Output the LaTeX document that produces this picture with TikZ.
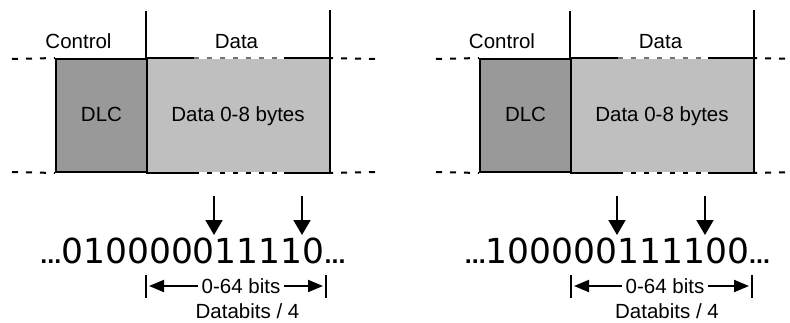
\documentclass[tikz,border=0pt]{standalone}
\usepackage{fontspec}
\setmainfont{Liberation Sans}
\newfontfamily\bitfont{DejaVu Sans}
\usetikzlibrary{arrows.meta}

\newcommand{\bitdots}{{\normalfont\bfseries\fontsize{25}{25}\selectfont...}}
\newcommand{\bitrow}[1]{{\bitfont\fontsize{34.5}{40}\selectfont\bitdots#1\bitdots}}

\begin{document}
\begin{tikzpicture}[x=1pt,y=-1pt,line width=2pt,
                    >={Triangle[length=15pt,width=17pt]},
                    font=\fontsize{20.5}{24}\selectfont]
      \tikzstyle{dlc}=[draw,fill=black!40,minimum width=91pt,minimum height=113pt,
                       inner sep=0pt,text height=15pt,text depth=4pt]
      \tikzstyle{field}=[fill=black!25,minimum width=182pt,minimum height=113pt,
                         inner sep=0pt,text height=15pt,text depth=4pt]
      \tikzstyle{sideline}=[dash pattern=on 6pt off 8pt]
      \tikzstyle{gaptop}=[black!55,line width=1.2pt,dash pattern=on 5pt off 8pt]
      \tikzstyle{gapbot}=[line width=1.6pt,dash pattern=on 5pt off 8pt]
      \tikzstyle{dim}=[-{Triangle[length=15pt,width=12pt]}]
      \tikzstyle{len}=[inner sep=3pt,text height=15pt,text depth=0pt]

      \useasboundingbox (0,0) rectangle (790,322);

      % left frame
      \node[field] (dataA) at (238,115.5)   {Data 0-8 bytes};
      \node[dlc]   (dlcA)  at (101.5,115.5) {DLC};
      \draw (dataA.north east) -- (dataA.south east);
      \draw (dataA.north west) -- +(48,0);
      \draw[gaptop] ([xshift=48pt]dataA.north west) -- ([xshift=-46pt]dataA.north east);
      \draw ([xshift=-46pt]dataA.north east) -- (dataA.north east);
      \draw (dataA.south west) -- +(48,0);
      \draw[gapbot] ([xshift=48pt]dataA.south west) -- ([xshift=-46pt]dataA.south east);
      \draw ([xshift=-46pt]dataA.south east) -- (dataA.south east);
      \draw (dataA.north west) -- +(0,-47);
      \draw (dataA.north east) -- +(0,-48);

      \node[anchor=base] (ctrlA) at (78.5,48.5)  {Control};
      \node[anchor=base] (headA) at (236.5,48.5) {Data};

      \coordinate (ltA) at (12,59);   \coordinate (rtA) at (375,59);
      \coordinate (lbA) at (12,172);  \coordinate (rbA) at (375,172);
      \draw[sideline] (ltA) -- (dlcA.north west);
      \draw[sideline] (lbA) -- (dlcA.south west);
      \draw[sideline] (rtA) -- (dataA.north east);
      \draw[sideline] (rbA) -- (dataA.south east);

      \node[anchor=base,inner sep=0pt] (bitsA) at (193,263) {\bitrow{010000011110}};
      \coordinate (s1A) at (214,196); \coordinate (e1A) at (214,235);
      \coordinate (s2A) at (302,196); \coordinate (e2A) at (302,235);
      \draw[->] (s1A) -- (e1A);
      \draw[->] (s2A) -- (e2A);

      \node[len] (lenA) at (241,286) {0-64 bits};
      \coordinate (t1A) at (146,286); \coordinate (t2A) at (326,286);
      \draw (t1A) +(0,-11) -- +(0,12);
      \draw (t2A) +(0,-11) -- +(0,12);
      \draw[dim] (lenA.west) -- ([xshift=3pt]t1A);
      \draw[dim] (lenA.east) -- ([xshift=-3pt]t2A);
      \node[anchor=base] (divA) at (247.5,318) {Databits / 4};

      % right frame
      \node[field] (dataB) at (662,115.5)   {Data 0-8 bytes};
      \node[dlc]   (dlcB)  at (525.5,115.5) {DLC};
      \draw (dataB.north east) -- (dataB.south east);
      \draw (dataB.north west) -- +(48,0);
      \draw[gaptop] ([xshift=48pt]dataB.north west) -- ([xshift=-46pt]dataB.north east);
      \draw ([xshift=-46pt]dataB.north east) -- (dataB.north east);
      \draw (dataB.south west) -- +(48,0);
      \draw[gapbot] ([xshift=48pt]dataB.south west) -- ([xshift=-46pt]dataB.south east);
      \draw ([xshift=-46pt]dataB.south east) -- (dataB.south east);
      \draw (dataB.north west) -- +(0,-47);
      \draw (dataB.north east) -- +(0,-48);

      \node[anchor=base] (ctrlB) at (502,48.5)   {Control};
      \node[anchor=base] (headB) at (660.5,48.5) {Data};

      \coordinate (ltB) at (436,59);  \coordinate (rtB) at (799,59);
      \coordinate (lbB) at (436,172); \coordinate (rbB) at (799,172);
      \draw[sideline] (ltB) -- (dlcB.north west);
      \draw[sideline] (lbB) -- (dlcB.south west);
      \draw[sideline] (rtB) -- (dataB.north east);
      \draw[sideline] (rbB) -- (dataB.south east);

      \node[anchor=base,inner sep=0pt] (bitsB) at (617.5,263) {\bitrow{100000111100}};
      \coordinate (s1B) at (617,196); \coordinate (e1B) at (617,235);
      \coordinate (s2B) at (705,196); \coordinate (e2B) at (705,235);
      \draw[->] (s1B) -- (e1B);
      \draw[->] (s2B) -- (e2B);

      \node[len] (lenB) at (665,286) {0-64 bits};
      \coordinate (t1B) at (571,286); \coordinate (t2B) at (752,286);
      \draw (t1B) +(0,-11) -- +(0,12);
      \draw (t2B) +(0,-11) -- +(0,12);
      \draw[dim] (lenB.west) -- ([xshift=3pt]t1B);
      \draw[dim] (lenB.east) -- ([xshift=-3pt]t2B);
      \node[anchor=base] (divB) at (667,318) {Databits / 4};

    \end{tikzpicture}
\end{document}
